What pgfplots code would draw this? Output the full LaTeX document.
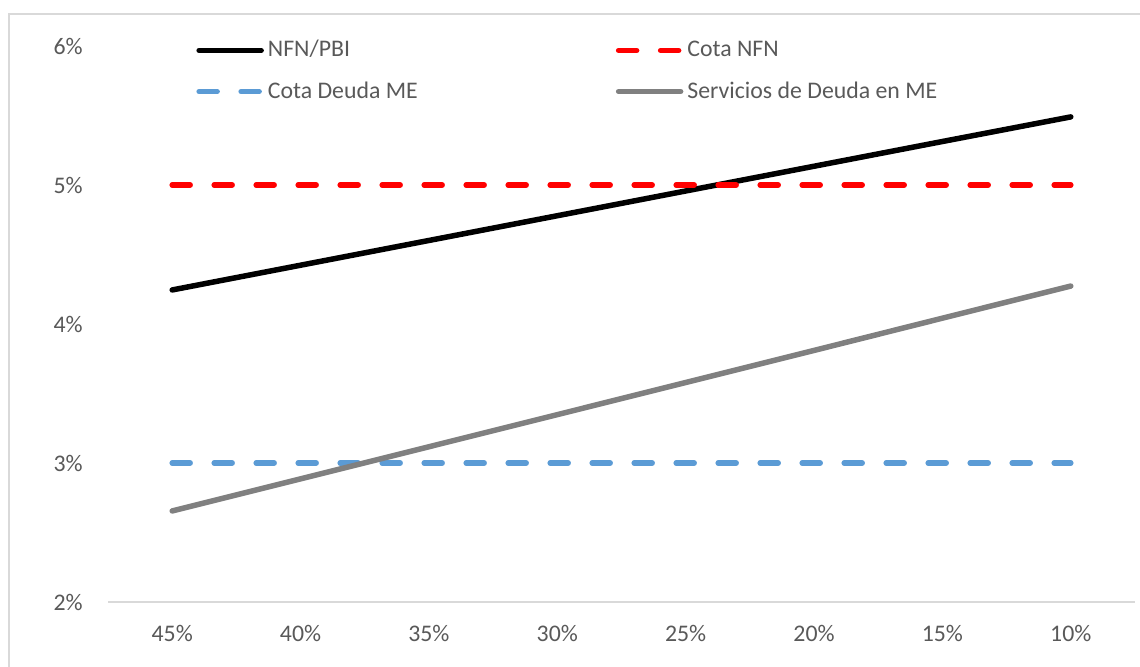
\documentclass[border=0pt]{standalone}
\usepackage{pgfplots}
\pgfplotsset{compat=1.18}
\usepackage{fontspec}
\setmainfont{Carlito}

\definecolor{txt}{HTML}{595959}
\definecolor{frame}{HTML}{D9D9D9}
\definecolor{cotared}{HTML}{FF0000}
\definecolor{cotablue}{HTML}{5B9BD5}
\definecolor{servgray}{HTML}{808080}

\pgfplotstableread{
x nfn cotanfn cotame serv
0 4.245 5 3 2.655
1 4.423 5 3 2.886
2 4.601 5 3 3.117
3 4.779 5 3 3.348
4 4.957 5 3 3.579
5 5.135 5 3 3.810
6 5.313 5 3 4.042
7 5.490 5 3 4.273
}\datatable

\begin{document}
\fontsize{11.9pt}{13.5pt}\selectfont
\begin{tikzpicture}
\useasboundingbox (0,0) rectangle (570pt,333pt);
\draw[frame, line width=1pt] (4.5pt,-20pt) rectangle (600pt,326pt);
\begin{axis}[
    at={(54pt,32pt)}, anchor=south west,
    scale only axis,
    width=513.5pt, height=278pt,
    xmin=-0.5, xmax=7.5,
    ymin=2, ymax=6,
    axis x line*=bottom,
    axis y line*=left,
    x axis line style={frame, line width=1pt, -},
    y axis line style={draw=none},
    xtick={0,...,7},
    xticklabels={45\%,40\%,35\%,30\%,25\%,20\%,15\%,10\%},
    ytick={2,3,4,5,6},
    yticklabels={2\%,3\%,4\%,5\%,6\%},
    major tick length=0pt,
    tick style={draw=none},
    ticklabel style={font=\fontsize{11.9pt}{13.5pt}\selectfont, text=txt},
    xticklabel style={yshift=-7.5pt},
    yticklabel style={xshift=-8.5pt},
    every axis plot/.append style={line width=2.75pt, line cap=round, line join=round},
    legend image code/.code={\draw[#1] (0pt,0pt) -- (31pt,0pt);},
    legend columns=2,
    legend style={
        draw=none, fill=none, inner sep=0pt,
        at={(axis description cs:0,1)}, anchor=north west,
        xshift=44pt, yshift=5pt,
        column sep=0pt, row sep=6.5pt,
        font=\fontsize{11.9pt}{13.5pt}\selectfont, text=txt,
        cells={anchor=west},
    },
]
\addplot[black] table[x=x, y=nfn] {\datatable};
\addlegendentry{\makebox[172pt][l]{NFN/PBI}}
\addplot[cotared, dash pattern=on 9pt off 12pt] table[x=x, y=cotanfn] {\datatable};
\addlegendentry{Cota NFN}
\addplot[cotablue, dash pattern=on 9pt off 12pt] table[x=x, y=cotame] {\datatable};
\addlegendentry{\makebox[172pt][l]{Cota Deuda ME}}
\addplot[servgray] table[x=x, y=serv] {\datatable};
\addlegendentry{Servicios de Deuda en ME}
\end{axis}
\end{tikzpicture}
\end{document}
